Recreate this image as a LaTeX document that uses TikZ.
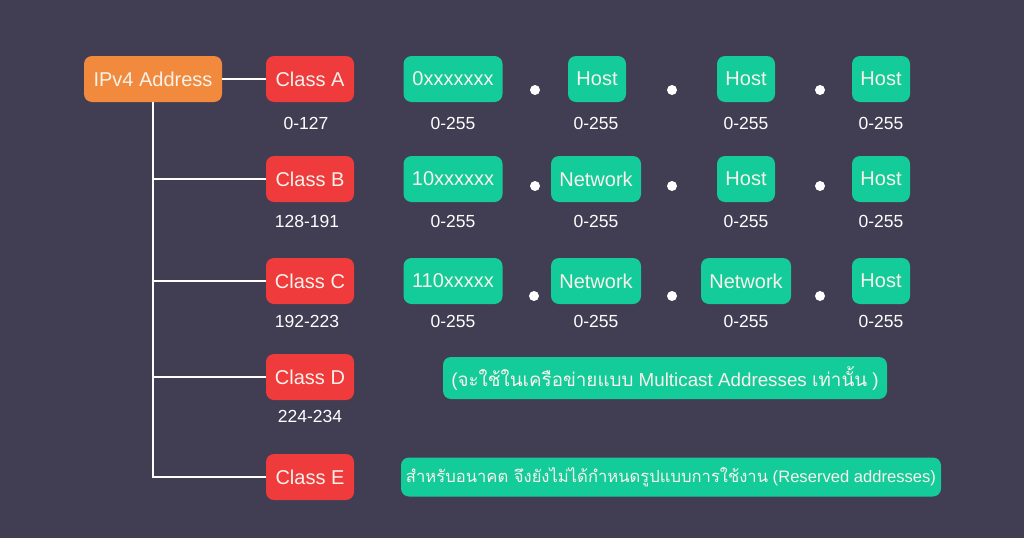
\documentclass[tikz,border=0pt]{standalone}
\usepackage{fontspec}
\setmainfont{Liberation Sans}
\newfontfamily\thaifont[Script=Thai]{Loma}
\definecolor{bg}{HTML}{413D53}
\definecolor{orangebox}{HTML}{F28A3D}
\definecolor{redbox}{HTML}{EF3B3B}
\definecolor{greenbox}{HTML}{14CC9A}
\definecolor{txt}{HTML}{F7F2EC}
\begin{document}
\begin{tikzpicture}[x=1pt,y=-1pt,
  base/.style={rounded corners=8pt,text=txt,inner sep=0pt,minimum height=46pt,font=\fontsize{20}{22}\selectfont},
  rootbox/.style={base,fill=orangebox,minimum width=138pt},
  classbox/.style={base,fill=redbox,minimum width=88pt},
  bitbox/.style={base,fill=greenbox,minimum width=99pt},
  hostbox/.style={base,fill=greenbox,minimum width=58pt},
  netbox/.style={base,fill=greenbox,minimum width=90pt},
  note/.style={rounded corners=8pt,fill=greenbox,text=txt,inner sep=0pt},
  rng/.style={text=white,font=\fontsize{17.5}{20}\selectfont,inner sep=0pt},
  dotm/.style={circle,fill=white,minimum size=10pt,inner sep=0pt},
  link/.style={draw=white,line width=2.2pt}]
\fill[bg] (0,0) rectangle (1024,538);
\useasboundingbox (0,0) rectangle (1024,538);

% root and classes
\node[rootbox] (root) at (153,79) {IPv4 Address};
\node[classbox] (ca) at (310,79) {Class A};
\node[classbox] (cb) at (310,179) {Class B};
\node[classbox] (cc) at (310,281) {Class C};
\node[classbox] (cd) at (310,377) {Class D};
\node[classbox] (ce) at (310,477) {Class E};

\node[rng] (ra) at (306,123) {0-127};
\node[rng] (rb) at (307,221) {128-191};
\node[rng] (rc) at (307,321) {192-223};
\node[rng] (rd) at (310,416) {224-234};

% connectors
\coordinate (jb) at (153,179);
\coordinate (jc) at (153,281);
\coordinate (jd) at (153,377);
\coordinate (je) at (153,477);
\draw[link] (root.east) -- (ca.west);
\draw[link] (root.south) -- (je) -- (ce.west);
\draw[link] (jb) -- (cb.west);
\draw[link] (jc) -- (cc.west);
\draw[link] (jd) -- (cd.west);

% row A
\node[bitbox] (a1) at (453,79) {0xxxxxxx};
\node[hostbox] (a2) at (597,79) {Host};
\node[hostbox] (a3) at (746,79) {Host};
\node[hostbox] (a4) at (881,79) {Host};
\node[dotm] (ad1) at (535,90) {};
\node[dotm] (ad2) at (672,90) {};
\node[dotm] (ad3) at (820,90) {};
\node[rng] (al1) at (453,123) {0-255};
\node[rng] (al2) at (596,123) {0-255};
\node[rng] (al3) at (746,123) {0-255};
\node[rng] (al4) at (881,123) {0-255};

% row B
\node[bitbox] (b1) at (453,179) {10xxxxxx};
\node[netbox] (b2) at (596,179) {Network};
\node[hostbox] (b3) at (746,179) {Host};
\node[hostbox] (b4) at (881,179) {Host};
\node[dotm] (bd1) at (535,186) {};
\node[dotm] (bd2) at (672,186) {};
\node[dotm] (bd3) at (820,186) {};
\node[rng] (bl1) at (453,221) {0-255};
\node[rng] (bl2) at (596,221) {0-255};
\node[rng] (bl3) at (746,221) {0-255};
\node[rng] (bl4) at (881,221) {0-255};

% row C
\node[bitbox] (c1) at (453,281) {110xxxxx};
\node[netbox] (c2) at (596,281) {Network};
\node[netbox] (c3) at (746,281) {Network};
\node[hostbox] (c4) at (881,281) {Host};
\node[dotm] (cd1) at (534,296) {};
\node[dotm] (cd2) at (672,296) {};
\node[dotm] (cd3) at (820,296) {};
\node[rng] (cl1) at (453,321) {0-255};
\node[rng] (cl2) at (596,321) {0-255};
\node[rng] (cl3) at (746,321) {0-255};
\node[rng] (cl4) at (881,321) {0-255};

% notes
\node[note,minimum width=444pt,minimum height=42pt,font=\fontsize{18.8}{22}\selectfont] (nd) at (665,378)
  {({\thaifont จะใช้ในเครือข่ายแบบ} Multicast Addresses {\thaifont เท่านั้น} )};
\node[note,minimum width=540pt,minimum height=39pt,font=\fontsize{16.6}{20}\selectfont] (ne) at (671,477)
  {{\thaifont สำหรับอนาคต จึงยังไม่ได้กำหนดรูปแบบการใช้งาน} (Reserved addresses)};
\end{tikzpicture}
\end{document}
